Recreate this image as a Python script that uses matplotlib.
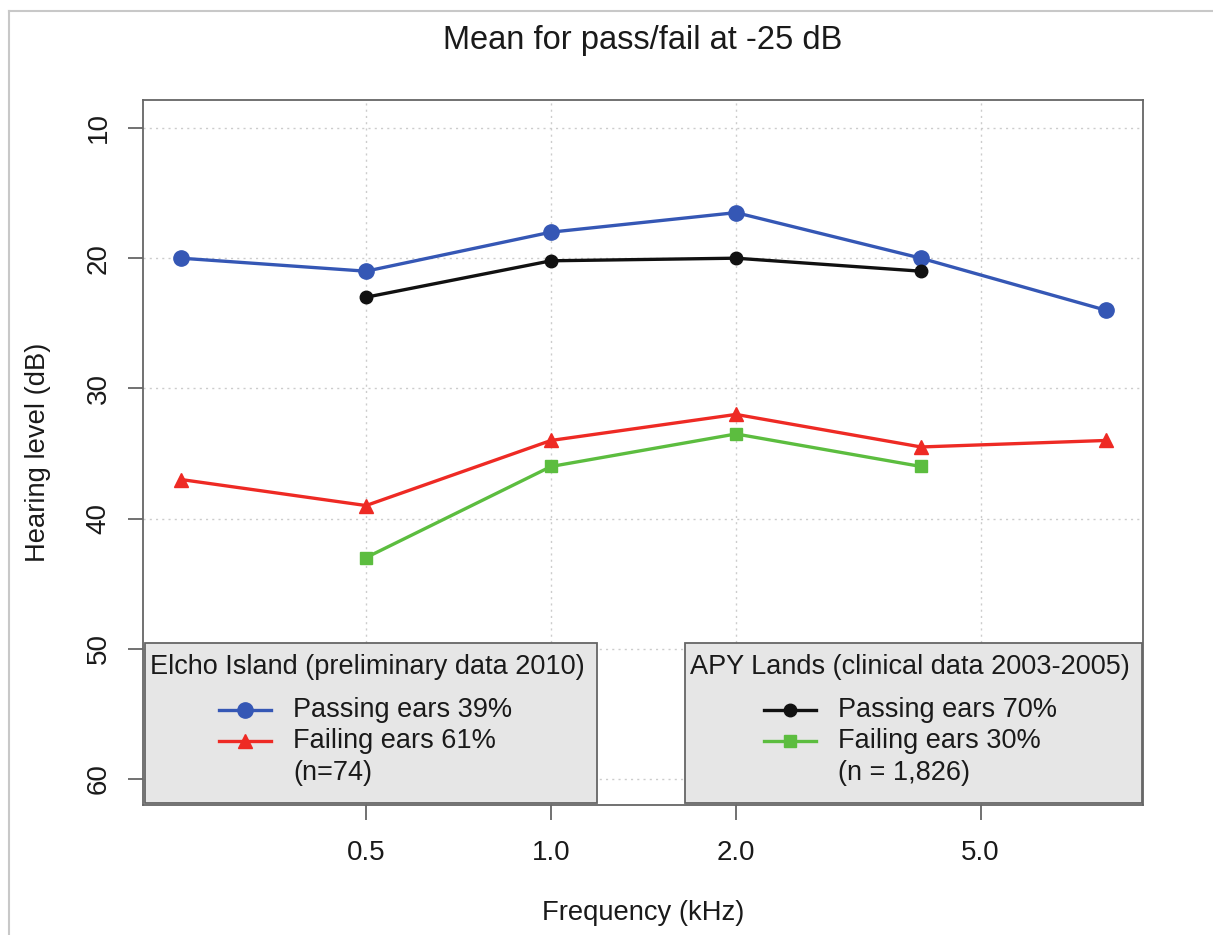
import matplotlib
matplotlib.use("Agg")
import matplotlib.pyplot as plt
from matplotlib.lines import Line2D
from matplotlib.patches import Rectangle

plt.rcParams['font.family'] = ['Liberation Sans', 'DejaVu Sans']

# ---- data ----
freq_elcho = [0.25, 0.5, 1.0, 2.0, 4.0, 8.0]
elcho_pass = [20.0, 21.0, 18.0, 16.5, 20.0, 24.0]
elcho_fail = [37.0, 39.0, 34.0, 32.0, 34.5, 34.0]
freq_apy = [0.5, 1.0, 2.0, 4.0]
apy_pass = [23.0, 20.2, 20.0, 21.0]
apy_fail = [43.0, 36.0, 33.5, 36.0]

xticks = [0.5, 1.0, 2.0, 5.0]
xtick_labels = ["0.5", "1.0", "2.0", "5.0"]
yticks = [10, 20, 30, 40, 50, 60]

title = "Mean for pass/fail at -25 dB"
xlabel = "Frequency (kHz)"
ylabel = "Hearing level (dB)"
leg1_title = "Elcho Island (preliminary data 2010)"
leg1_labels = ["Passing ears 39%", "Failing ears 61%", "(n=74)"]
leg2_title = "APY Lands (clinical data 2003-2005)"
leg2_labels = ["Passing ears 70%", "Failing ears 30%", "(n = 1,826)"]

BLUE = "#3557b5"
RED = "#ee2a24"
BLACK = "#111111"
GREEN = "#5cbd3f"
AX = "#666666"
TXT = "#1a1a1a"

W, H = 1213, 935
fig = plt.figure(figsize=(W / 100, H / 100), dpi=100)
fig.patch.set_facecolor("white")

# image border (left and top)
fig.add_artist(Line2D([8.5 / W, 8.5 / W], [0, 1 - 10.5 / H], transform=fig.transFigure,
                      color="#c8c8c8", lw=1.5))
fig.add_artist(Line2D([8.5 / W, 1], [1 - 10.5 / H, 1 - 10.5 / H], transform=fig.transFigure,
                      color="#c8c8c8", lw=1.5))

L, R, T, B = 143, 1143, 100, 805
ax = fig.add_axes([L / W, 1 - B / H, (R - L) / W, (B - T) / H])
ax.set_xscale("log")
ax.set_xlim(0.2168, 9.19)
ax.set_ylim(62.0, 7.85)

for s in ax.spines.values():
    s.set_color(AX)
    s.set_linewidth(1.3)

ax.set_xticks(xticks)
ax.set_xticklabels(xtick_labels)
ax.minorticks_off()
ax.set_yticks(yticks)
ax.set_yticklabels([str(v) for v in yticks], rotation=90, va="center")
ax.tick_params(axis="both", direction="out", length=10.5, width=1.3, color=AX,
               labelsize=20, labelcolor=TXT)
ax.tick_params(axis="x", pad=15)
ax.tick_params(axis="y", pad=12)

ax.grid(True, which="major", linestyle=(0, (1.5, 3)), color="#cccccc", lw=1.0)
ax.set_axisbelow(True)

ax.plot(freq_elcho, elcho_pass, color=BLUE, lw=2.4, marker="o", ms=11, zorder=3)
ax.plot(freq_elcho, elcho_fail, color=RED, lw=2.4, marker="^", ms=9.5, zorder=3)
ax.plot(freq_apy, apy_pass, color=BLACK, lw=2.4, marker="o", ms=9, zorder=3)
ax.plot(freq_apy, apy_fail, color=GREEN, lw=2.4, marker="s", ms=8.5, zorder=3)

fig.text(643 / W, 1 - 40 / H, title, ha="center", va="center", fontsize=23.5, color=TXT)
fig.text(643 / W, 1 - 913 / H, xlabel, ha="center", va="center", fontsize=19.7, color=TXT)
fig.text(38 / W, 1 - 452 / H, ylabel, ha="center", va="center", rotation=90, fontsize=19.7, color=TXT)


def px(x, y):
    return (x / W, 1 - y / H)


def legend_box(x0, x1, hx0, tx, title_txt, labels, colors, markers, msizes):
    y0, y1 = 643, 803
    fig.add_artist(Rectangle(px(x0, y1), (x1 - x0) / W, (y1 - y0) / H, transform=fig.transFigure,
                             facecolor="#e6e6e6", edgecolor="#666666", lw=1.3, zorder=5))
    fig.text(*px(x0 + 5, 667), title_txt, ha="left", va="center", fontsize=19.5, color=TXT, zorder=6)
    hx1 = hx0 + 52
    for i, (lab, yy) in enumerate(zip(labels, [710, 741, 773])):
        if i < 2:
            fig.add_artist(Line2D([hx0 / W, hx1 / W], [1 - yy / H, 1 - yy / H], transform=fig.transFigure,
                                  color=colors[i], lw=2.4, zorder=6))
            fig.add_artist(Line2D([(hx0 + hx1) / 2 / W], [1 - yy / H], transform=fig.transFigure,
                                  color=colors[i], marker=markers[i], ms=msizes[i], lw=0, zorder=7))
        fig.text(*px(tx, yy), lab, ha="left", va="center", fontsize=19.5, color=TXT, zorder=6)


legend_box(145, 597, 219, 293, leg1_title, leg1_labels, [BLUE, RED], ["o", "^"], [11, 9.5])
legend_box(685, 1142, 764, 838, leg2_title, leg2_labels, [BLACK, GREEN], ["o", "s"], [9, 8.5])

fig.savefig("out.png", dpi=100)
